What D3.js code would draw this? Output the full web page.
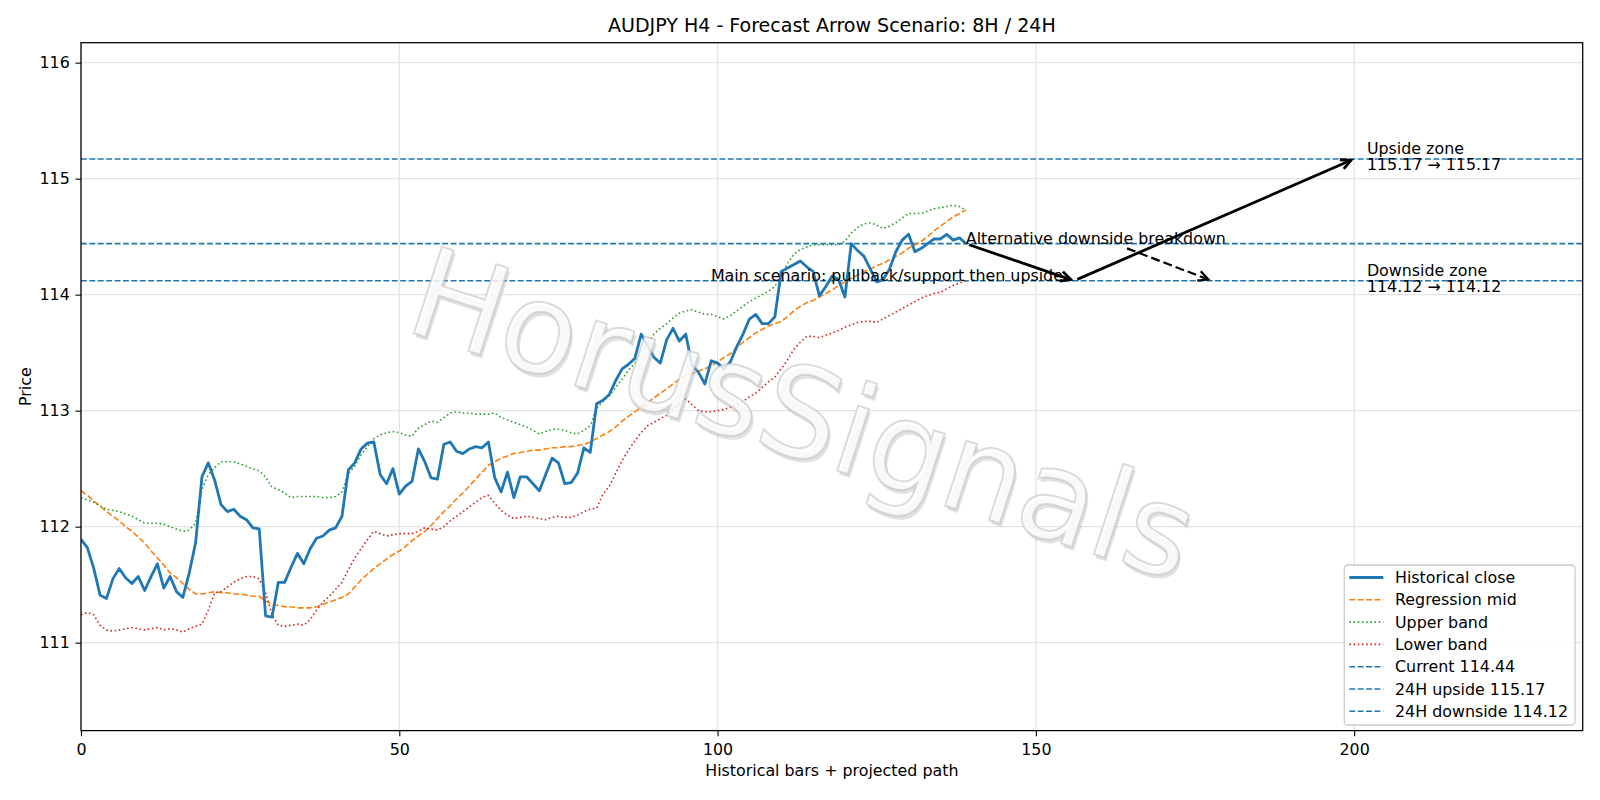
<!DOCTYPE html>
<html><head><meta charset="utf-8">
<script src="https://cdn.jsdelivr.net/npm/d3@7"></script>
<style>body{margin:0;background:#fff} text{font-family:"DejaVu Sans",sans-serif;fill:#000}</style>
</head><body><svg id="c" width="1600" height="800"></svg>
<script>
// ---------- data ----------
const closeVals = [111.89,111.82,111.64,111.41,111.38,111.55,111.64,111.56,111.51,111.57,
111.45,111.57,111.68,111.47,111.57,111.44,111.39,111.60,111.86,112.43,
112.55,112.40,112.19,112.13,112.15,112.09,112.06,111.99,111.98,111.23,
111.22,111.52,111.52,111.65,111.77,111.68,111.81,111.90,111.92,111.97,
111.99,112.09,112.49,112.55,112.67,112.72,112.73,112.45,112.37,112.50,
112.28,112.35,112.39,112.67,112.56,112.42,112.41,112.71,112.73,112.65,
112.63,112.67,112.69,112.68,112.73,112.42,112.30,112.47,112.25,112.43,
112.43,112.37,112.31,112.45,112.59,112.55,112.37,112.38,112.46,112.68,
112.64,113.06,113.09,113.14,113.26,113.36,113.40,113.45,113.66,113.56,
113.46,113.41,113.61,113.71,113.60,113.66,113.39,113.33,113.23,113.43,
113.41,113.36,113.42,113.55,113.66,113.79,113.83,113.75,113.75,113.81,
114.20,114.23,114.26,114.29,114.24,114.20,113.99,114.07,114.16,114.13,
113.98,114.44,114.38,114.33,114.22,114.11,114.13,114.22,114.37,114.47,
114.52,114.37,114.40,114.44,114.48,114.48,114.52,114.47,114.49,114.44];

const midVals = [112.31,112.27,112.22,112.18,112.13,112.09,112.05,112.00,111.96,111.91,
111.86,111.79,111.73,111.67,111.60,111.56,111.51,111.46,111.42,111.42,
111.43,111.44,111.43,111.43,111.42,111.42,111.41,111.40,111.40,111.36,
111.33,111.32,111.31,111.31,111.30,111.30,111.30,111.31,111.33,111.35,
111.37,111.39,111.42,111.48,111.54,111.59,111.64,111.68,111.72,111.76,
111.79,111.83,111.88,111.92,111.96,112.01,112.07,112.13,112.18,112.24,
112.29,112.35,112.41,112.47,112.53,112.56,112.59,112.61,112.63,112.64,
112.65,112.66,112.66,112.67,112.68,112.68,112.69,112.69,112.70,112.71,
112.73,112.76,112.79,112.82,112.86,112.91,112.95,112.99,113.03,113.07,
113.11,113.15,113.19,113.23,113.27,113.30,113.32,113.34,113.36,113.39,
113.42,113.46,113.49,113.54,113.59,113.63,113.67,113.70,113.73,113.75,
113.77,113.81,113.86,113.90,113.93,113.95,113.98,114.01,114.04,114.08,
114.11,114.14,114.17,114.20,114.22,114.25,114.27,114.30,114.33,114.36,
114.40,114.43,114.46,114.50,114.55,114.59,114.63,114.67,114.70,114.73];

const upperVals = [112.25,112.23,112.21,112.18,112.15,112.14,112.13,112.11,112.09,112.06,
112.03,112.03,112.03,112.02,112.00,111.98,111.96,111.97,112.03,112.32,
112.45,112.51,112.56,112.56,112.56,112.54,112.52,112.50,112.48,112.43,
112.34,112.32,112.29,112.25,112.26,112.26,112.26,112.26,112.25,112.25,
112.26,112.30,112.46,112.52,112.62,112.69,112.76,112.79,112.81,112.82,
112.81,112.79,112.78,112.85,112.88,112.91,112.90,112.94,112.98,112.99,
112.98,112.98,112.97,112.97,112.97,112.98,112.94,112.92,112.90,112.88,
112.86,112.83,112.80,112.82,112.84,112.84,112.83,112.81,112.80,112.83,
112.87,113.02,113.08,113.13,113.20,113.27,113.35,113.41,113.50,113.58,
113.66,113.71,113.75,113.80,113.84,113.86,113.87,113.85,113.83,113.83,
113.81,113.79,113.82,113.86,113.90,113.94,113.97,114.00,114.03,114.07,
114.17,114.27,114.35,114.39,114.41,114.43,114.43,114.43,114.43,114.43,
114.46,114.53,114.58,114.61,114.62,114.60,114.57,114.59,114.62,114.66,
114.70,114.70,114.70,114.72,114.74,114.75,114.76,114.77,114.76,114.73];

const lowerVals = [111.24,111.26,111.24,111.15,111.11,111.10,111.11,111.12,111.13,111.12,
111.11,111.12,111.13,111.11,111.12,111.11,111.09,111.12,111.14,111.16,
111.28,111.43,111.44,111.48,111.52,111.55,111.57,111.57,111.55,111.43,
111.24,111.15,111.14,111.15,111.16,111.15,111.20,111.28,111.35,111.40,
111.46,111.52,111.63,111.73,111.81,111.89,111.96,111.94,111.92,111.93,
111.94,111.94,111.94,111.96,111.99,111.98,111.97,112.00,112.05,112.09,
112.13,112.17,112.21,112.25,112.27,112.20,112.14,112.10,112.07,112.08,
112.09,112.08,112.07,112.06,112.08,112.09,112.08,112.08,112.10,112.13,
112.15,112.16,112.28,112.35,112.46,112.57,112.66,112.74,112.81,112.87,
112.90,112.93,112.96,113.01,113.06,113.10,113.05,113.00,112.99,112.99,
113.00,113.01,113.03,113.05,113.08,113.12,113.15,113.20,113.25,113.29,
113.36,113.44,113.53,113.59,113.64,113.64,113.63,113.65,113.67,113.69,
113.72,113.74,113.76,113.77,113.77,113.76,113.79,113.82,113.85,113.88,
113.91,113.94,113.97,113.99,114.01,114.02,114.05,114.08,114.10,114.12];

const levelValues = [114.44, 115.17, 114.12];
const levelLabels = ["Current 114.44", "24H upside 115.17", "24H downside 114.12"];
const xTicks = [0, 50, 100, 150, 200];
const yTicks = [111, 112, 113, 114, 115, 116];
const mainPath = [[139, 114.44], [156, 114.12], [200, 115.17]];
const altPath = [[163.8, 114.41], [177.6, 114.12]];
const zoneTexts = [["Upside zone", "115.17 \u2192 115.17", 115.17], ["Downside zone", "114.12 \u2192 114.12", 114.12]];
const seriesLabels = ["Historical close", "Regression mid", "Upper band", "Lower band"];
const titleText = "AUDJPY H4 - Forecast Arrow Scenario: 8H / 24H";

// ---------- layout ----------
const L = 81, R = 1582.7, T = 42.7, B = 730.6;
const svg = d3.select("#c");
const x = d3.scaleLinear().domain([0, 235.9]).range([L, R]);
const y = d3.scaleLinear().domain([110.242, 116.172]).range([B, T]);
const FS = 15.87;

const clipId = "clipPlot";
svg.append("defs").append("clipPath").attr("id", clipId)
  .append("rect").attr("x", L).attr("y", T).attr("width", R - L).attr("height", B - T);

// grid
const grid = svg.append("g");
xTicks.forEach(v => grid.append("line").attr("x1", x(v)).attr("x2", x(v)).attr("y1", T).attr("y2", B)
  .attr("stroke", "#e4e4e4").attr("stroke-width", 1.3));
yTicks.forEach(v => grid.append("line").attr("x1", L).attr("x2", R).attr("y1", y(v)).attr("y2", y(v))
  .attr("stroke", "#e4e4e4").attr("stroke-width", 1.3));

const plot = svg.append("g").attr("clip-path", `url(#${clipId})`);

// level lines
levelValues.forEach(v => plot.append("line").attr("x1", L).attr("x2", R).attr("y1", y(v)).attr("y2", y(v))
  .attr("stroke", "#1f77b4").attr("stroke-width", 1.6).attr("stroke-dasharray", "5.9,2.5"));

const line = d3.line().x((d, i) => x(i)).y(d => y(d));
const styles = [
  {vals: closeVals, color: "#1f77b4", w: 2.8, dash: null},
  {vals: midVals, color: "#ff7f0e", w: 1.6, dash: "5.9,2.5"},
  {vals: upperVals, color: "#2ca02c", w: 1.6, dash: "1.6,2.6"},
  {vals: lowerVals, color: "#d62728", w: 1.6, dash: "1.6,2.6"}
];
[styles[1], styles[2], styles[3], styles[0]].forEach(s => {
  plot.append("path").datum(s.vals).attr("d", line).attr("fill", "none")
    .attr("stroke", s.color).attr("stroke-width", s.w)
    .attr("stroke-linejoin", "round")
    .attr("stroke-dasharray", s.dash);
});

// arrows
function arrow(g, p0, p1, dash, w) {
  let x0 = x(p0[0]), y0 = y(p0[1]), x1 = x(p1[0]), y1 = y(p1[1]);
  const dx = x1 - x0, dy = y1 - y0, len = Math.hypot(dx, dy);
  const ux = dx / len, uy = dy / len, sh = 3.5;
  x0 += ux * sh; y0 += uy * sh; x1 -= ux * sh; y1 -= uy * sh;
  g.append("line").attr("x1", x0).attr("y1", y0).attr("x2", x1).attr("y2", y1)
    .attr("stroke", "#000").attr("stroke-width", w).attr("stroke-dasharray", dash);
  const hl = 10, hw = 5;
  const bx = x1 - ux * hl, by = y1 - uy * hl;
  g.append("path").attr("d", `M${bx - uy * hw},${by + ux * hw}L${x1},${y1}L${bx + uy * hw},${by - ux * hw}`)
    .attr("fill", "none").attr("stroke", "#000").attr("stroke-width", w).attr("stroke-linejoin", "miter");
}
const ag = svg.append("g");

// annotation texts
svg.append("text").attr("x", x(139)).attr("y", y(114.44)).attr("font-size", FS)
  .text("Alternative downside breakdown");
svg.append("text").attr("x", x(98.95)).attr("y", y(114.12)).attr("font-size", FS)
  .text("Main scenario: pullback/support then upside");
arrow(ag, mainPath[0], mainPath[1], null, 2.8);
arrow(ag, mainPath[1], mainPath[2], null, 2.8);
arrow(ag, altPath[0], altPath[1], "9,4", 2.2);

zoneTexts.forEach(z => {
  const t = svg.append("text").attr("font-size", FS);
  t.append("tspan").attr("x", x(202)).attr("y", y(z[2]) - 5).text(z[0]);
  t.append("tspan").attr("x", x(202)).attr("y", y(z[2]) + 11.5).text(z[1]);
});

// spines & axes
svg.append("rect").attr("x", L).attr("y", T).attr("width", R - L).attr("height", B - T)
  .attr("fill", "none").attr("stroke", "#000").attr("stroke-width", 1.27);
const xa = svg.append("g").attr("transform", `translate(0,${B})`)
  .call(d3.axisBottom(x).tickValues(xTicks).tickFormat(d3.format("d")).tickSize(5.6).tickPadding(7.5));
const ya = svg.append("g").attr("transform", `translate(${L},0)`)
  .call(d3.axisLeft(y).tickValues(yTicks).tickFormat(d3.format("d")).tickSize(5.6).tickPadding(5.6));
[xa, ya].forEach(a => {
  a.select(".domain").remove();
  a.selectAll("line").attr("stroke", "#000").attr("stroke-width", 1.1);
  a.selectAll("text").attr("font-size", FS).attr("font-family", "DejaVu Sans").attr("fill", "#000");
});

svg.append("text").attr("x", (L + R) / 2).attr("y", 776).attr("text-anchor", "middle")
  .attr("font-size", FS).text("Historical bars + projected path");
svg.append("text").attr("transform", `translate(31,${(T + B) / 2}) rotate(-90)`).attr("text-anchor", "middle")
  .attr("font-size", FS).text("Price");
svg.append("text").attr("x", (L + R) / 2).attr("y", 32).attr("text-anchor", "middle")
  .attr("font-size", 19.05).text(titleText);

// legend
const lg = svg.append("g");
lg.append("rect").attr("x", 1344.3).attr("y", 565).attr("width", 230.7).attr("height", 160).attr("rx", 3.5)
  .attr("fill", "#fff").attr("fill-opacity", 0.8).attr("stroke", "#cccccc").attr("stroke-width", 1.27);
const legItems = styles.map((s, i) => ({label: seriesLabels[i], color: s.color, w: s.w, dash: s.dash}))
  .concat(levelLabels.map(l => ({label: l, color: "#1f77b4", w: 1.6, dash: "5.9,2.5"})));
legItems.forEach((it, i) => {
  const cy = 577.5 + 22.3 * i;
  lg.append("line").attr("x1", 1349.3).attr("x2", 1383.3).attr("y1", cy).attr("y2", cy)
    .attr("stroke", it.color).attr("stroke-width", it.w).attr("stroke-dasharray", it.dash);
  lg.append("text").attr("x", 1395).attr("y", cy + 5.6).attr("font-size", FS).text(it.label);
});

// watermark
const wm = svg.append("g").attr("transform", "translate(804,412) rotate(18)");
wm.append("text").attr("x", 3).attr("y", 45.6 + 3).attr("text-anchor", "middle").attr("font-size", 125)
  .style("fill", "#a8a8a8").attr("fill-opacity", 0.35).text("HorusSignals");
wm.append("text").attr("x", 0).attr("y", 45.6).attr("text-anchor", "middle").attr("font-size", 125)
  .style("fill", "#ffffff").attr("fill-opacity", 0.8).attr("stroke", "#bdbdbd").attr("stroke-width", 2)
  .attr("stroke-opacity", 0.55).text("HorusSignals");
</script></body></html>
